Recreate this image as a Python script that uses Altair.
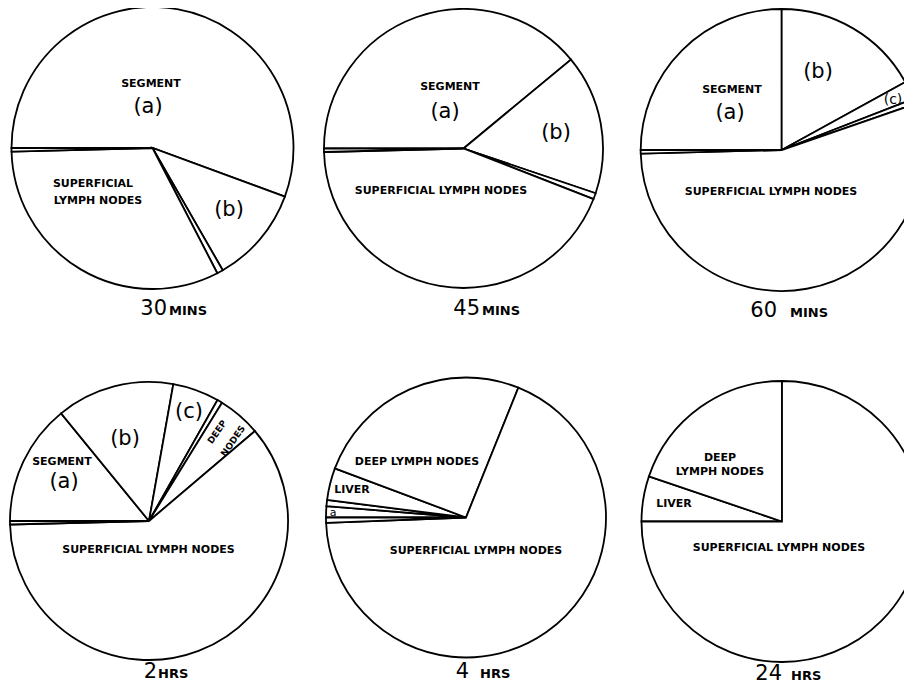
import math
import altair as alt
import pandas as pd

# ---------------- data ----------------
# Slices are listed clockwise starting from the 9 o'clock radius.
# Shares are percent of the full circle; "trace" = hairline slices drawn as double lines.
SLICES_30M = ["Segment (a)", "(b)", "trace", "Superficial lymph nodes", "trace"]
SHARE_30M = [55.6, 11.1, 0.7, 32.2, 0.4]

SLICES_45M = ["Segment (a)", "(b)", "trace", "Superficial lymph nodes", "trace"]
SHARE_45M = [39.0, 16.2, 0.7, 43.7, 0.4]

SLICES_60M = ["Segment (a)", "(b)", "(c)", "trace", "Superficial lymph nodes", "trace"]
SHARE_60M = [25.0, 17.0, 2.1, 0.6, 54.9, 0.4]

SLICES_2H = ["Segment (a)", "(b)", "(c)", "trace", "Deep nodes", "Superficial lymph nodes", "trace"]
SHARE_2H = [14.1, 13.7, 5.4, 0.6, 5.0, 60.8, 0.4]

SLICES_4H = ["a", "trace", "Liver", "Deep lymph nodes", "Superficial lymph nodes", "trace"]
SHARE_4H = [1.3, 0.7, 3.7, 25.4, 68.3, 0.6]

SLICES_24H = ["Liver", "Deep lymph nodes", "Superficial lymph nodes"]
SHARE_24H = [5.2, 19.8, 75.0]

TIME_NUMBERS = ["30", "45", "60", "2", "4", "24"]
TIME_UNITS = ["MINS", "MINS", "MINS", "HRS", "HRS", "HRS"]

PIE_SLICES = [SLICES_30M, SLICES_45M, SLICES_60M, SLICES_2H, SLICES_4H, SLICES_24H]
PIE_SHARES = [SHARE_30M, SHARE_45M, SHARE_60M, SHARE_2H, SHARE_4H, SHARE_24H]

# ---------------- layout (page pixels, not data) ----------------
M = 8  # page margin
W, H = 896, 676
PIE_CX = [152.5, 463.5, 781.7, 149, 466, 782]
PIE_CY = [148, 148.5, 150, 521, 517.5, 521.5]
PIE_R = [141, 139.5, 141, 139, 140, 140.5]

TITLE_NUM_RIGHT = [167, 480, 777, 157, 469, 782]
TITLE_UNIT_LEFT = [169, 482, 790, 158, 480, 791]
TITLE_BASE = [315, 315, 317, 678, 678, 680]

BOLD_LABELS = [
    ("SEGMENT", 151, 84), ("SUPERFICIAL", 93, 184), ("LYMPH NODES", 98, 201),
    ("SEGMENT", 450, 87), ("SUPERFICIAL LYMPH NODES", 441, 191),
    ("SEGMENT", 732, 90), ("SUPERFICIAL LYMPH NODES", 771, 192),
    ("SEGMENT", 62, 462), ("SUPERFICIAL LYMPH NODES", 148.5, 550),
    ("DEEP LYMPH NODES", 417, 462), ("LIVER", 352, 490),
    ("SUPERFICIAL LYMPH NODES", 476, 551),
    ("DEEP", 720, 458), ("LYMPH NODES", 720, 472), ("LIVER", 674, 504),
    ("SUPERFICIAL LYMPH NODES", 779, 548),
]
ROTATED_LABELS = [("DEEP", 217, 432), ("NODES", 233, 441)]
LETTER_LABELS = [
    ("(a)", 148, 107, 21), ("(b)", 229, 210, 21),
    ("(a)", 445, 112, 21), ("(b)", 556, 133, 21),
    ("(a)", 730, 113, 21), ("(b)", 818, 72, 21), ("(c)", 893, 100, 14),
    ("(a)", 64, 482, 21), ("(b)", 125, 439, 21), ("(c)", 189, 412, 21),
    ("a", 333, 513, 11),
]

FONT = "DejaVu Sans"
XS = alt.Scale(domain=[0, W], range=[0, W], nice=False, zero=False)
YS = alt.Scale(domain=[0, H], range=[0, H], nice=False, zero=False)
THETA_SCALE = alt.Scale(domain=[0, 100], range=[-math.pi / 2, 3 * math.pi / 2])

layers = []
for i in range(6):
    df = pd.DataFrame({
        "slice": PIE_SLICES[i],
        "share": PIE_SHARES[i],
        "k": list(range(len(PIE_SLICES[i]))),
    })
    arc = alt.Chart(df).mark_arc(
        radius=PIE_R[i], fill="white", stroke="black", strokeWidth=1.8,
        strokeJoin="miter", clip=True,
    ).encode(
        theta=alt.Theta("share:Q", stack=True, scale=THETA_SCALE),
        order=alt.Order("k:Q", sort="ascending"),
        x=alt.value(PIE_CX[i] - M),
        y=alt.value(PIE_CY[i] - M),
        tooltip=["slice:N", "share:Q"],
    )
    layers.append(arc)

bold_df = pd.DataFrame({
    "t": [b[0] for b in BOLD_LABELS],
    "x": [b[1] - M for b in BOLD_LABELS],
    "y": [b[2] - M for b in BOLD_LABELS],
})
layers.append(alt.Chart(bold_df).mark_text(
    font=FONT, fontWeight="bold", fontSize=11, align="center", baseline="middle", color="black"
).encode(x=alt.X("x:Q", scale=XS, axis=None), y=alt.Y("y:Q", scale=YS, axis=None), text="t:N"))

rot_df = pd.DataFrame({
    "t": [b[0] for b in ROTATED_LABELS],
    "x": [b[1] - M for b in ROTATED_LABELS],
    "y": [b[2] - M for b in ROTATED_LABELS],
})
layers.append(alt.Chart(rot_df).mark_text(
    font=FONT, fontWeight="bold", fontSize=9, angle=305, align="center", baseline="middle", color="black"
).encode(x=alt.X("x:Q", scale=XS, axis=None), y=alt.Y("y:Q", scale=YS, axis=None), text="t:N"))

let_df = pd.DataFrame({
    "t": [b[0] for b in LETTER_LABELS],
    "x": [b[1] - M for b in LETTER_LABELS],
    "y": [b[2] - M for b in LETTER_LABELS],
    "s": [b[3] for b in LETTER_LABELS],
})
layers.append(alt.Chart(let_df).mark_text(
    font=FONT, align="center", baseline="middle", color="black"
).encode(x=alt.X("x:Q", scale=XS, axis=None), y=alt.Y("y:Q", scale=YS, axis=None),
         text="t:N", size=alt.Size("s:Q", scale=None)))

num_df = pd.DataFrame({
    "t": TIME_NUMBERS,
    "x": [v - M for v in TITLE_NUM_RIGHT],
    "y": [v - M for v in TITLE_BASE],
})
layers.append(alt.Chart(num_df).mark_text(
    font=FONT, fontSize=21, align="right", baseline="alphabetic", color="black"
).encode(x=alt.X("x:Q", scale=XS, axis=None), y=alt.Y("y:Q", scale=YS, axis=None), text="t:N"))

unit_df = pd.DataFrame({
    "t": TIME_UNITS,
    "x": [v - M for v in TITLE_UNIT_LEFT],
    "y": [v - M for v in TITLE_BASE],
})
layers.append(alt.Chart(unit_df).mark_text(
    font=FONT, fontSize=13, fontWeight="bold", align="left", baseline="alphabetic", color="black"
).encode(x=alt.X("x:Q", scale=XS, axis=None), y=alt.Y("y:Q", scale=YS, axis=None), text="t:N"))

chart = alt.layer(*layers).properties(
    width=W, height=H, padding=0,
    autosize=alt.AutoSizeParams(type="none"),
    background="white",
).configure_view(stroke=None)

chart.save("out.html", embed_options={"renderer": "svg", "actions": False})
